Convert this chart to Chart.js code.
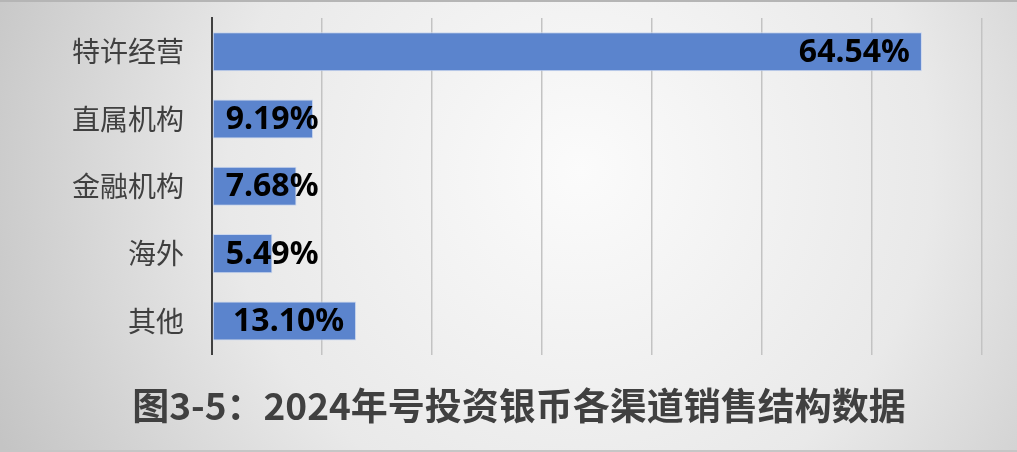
<!DOCTYPE html>
<html>
<head>
<meta charset="utf-8">
<script src="https://cdn.jsdelivr.net/npm/chart.js@4"></script>
<style>
  html, body { margin: 0; padding: 0; background: #e6e6e6; }
  #wrap { width: 1017px; height: 452px; position: relative; }
</style>
</head>
<body>
<div id="wrap"><canvas id="salesChart"></canvas></div>
<script>
const categories = ["特许经营", "直属机构", "金融机构", "海外", "其他"];
const shares = [64.54, 9.19, 7.68, 5.49, 13.10];
const axisMax = 70;
const chartTitle = "图3-5：2024年号投资银币各渠道销售结构数据";

// soft grey radial background with thin frame
const backdrop = {
  id: "backdrop",
  beforeDraw(chart) {
    const { ctx, width, height } = chart;
    ctx.save();
    const g = ctx.createRadialGradient(580, 170, 0, 580, 170, 640);
    g.addColorStop(0, "#fbfbfb");
    g.addColorStop(0.55, "#e9e9e9");
    g.addColorStop(1, "#c4c4c4");
    ctx.fillStyle = g;
    ctx.fillRect(0, 0, width, height);
    ctx.fillStyle = "#b5b5b5";
    ctx.fillRect(0, 0, width, 2);
    ctx.fillStyle = "#c6c6c6";
    ctx.fillRect(0, height - 2, width, 2);
    ctx.restore();
  }
};

// value labels: inside the bar end, pushed right when the bar is too short
const valueLabels = {
  id: "valueLabels",
  afterDatasetsDraw(chart) {
    const { ctx } = chart;
    const meta = chart.getDatasetMeta(0);
    ctx.save();
    ctx.font = "bold 32px 'Noto Sans', sans-serif";
    ctx.fillStyle = "#000000";
    ctx.textAlign = "right";
    ctx.textBaseline = "middle";
    meta.data.forEach((bar, i) => {
      const text = shares[i].toFixed(2) + "%";
      const w = ctx.measureText(text).width;
      const x = Math.max(bar.x - 12, bar.base + 13 + w);
      ctx.fillText(text, x, bar.y + 1);
    });
    ctx.restore();
  }
};

new Chart(document.getElementById("salesChart"), {
  type: "bar",
  data: {
    labels: categories,
    datasets: [{
      data: shares,
      backgroundColor: "#5b84cd",
      borderColor: "#cbd7ee",
      borderWidth: 1,
      borderSkipped: false,
      categoryPercentage: 1,
      barPercentage: 0.58
    }]
  },
  options: {
    indexAxis: "y",
    responsive: true,
    maintainAspectRatio: false,
    animation: false,
    devicePixelRatio: 1,
    layout: { padding: { top: 18, right: 35, left: 56, bottom: 0 } },
    plugins: {
      legend: { display: false },
      tooltip: { enabled: false },
      title: {
        display: true,
        position: "bottom",
        text: chartTitle,
        color: "#404040",
        font: { family: "'Noto Sans CJK SC', sans-serif", size: 37, weight: "bold" },
        padding: { top: 29, bottom: 24 }
      }
    },
    scales: {
      x: {
        min: 0,
        max: axisMax,
        ticks: { display: false, stepSize: 10 },
        grid: { color: "#c3c3c3", lineWidth: 1.5, drawTicks: false },
        border: { display: false },
        afterFit(scale) { scale.height = 0; }
      },
      y: {
        grid: { display: false, drawTicks: false },
        border: { display: true, color: "#404040", width: 2 },
        ticks: {
          color: "#404040",
          padding: 28,
          font: { family: "'Noto Sans CJK SC', sans-serif", size: 28 }
        },
        afterFit(scale) {
          scale.width = 156;
          scale.paddingTop = 0;
          scale.paddingBottom = 0;
        }
      }
    }
  },
  plugins: [backdrop, valueLabels]
});
</script>
</body>
</html>
